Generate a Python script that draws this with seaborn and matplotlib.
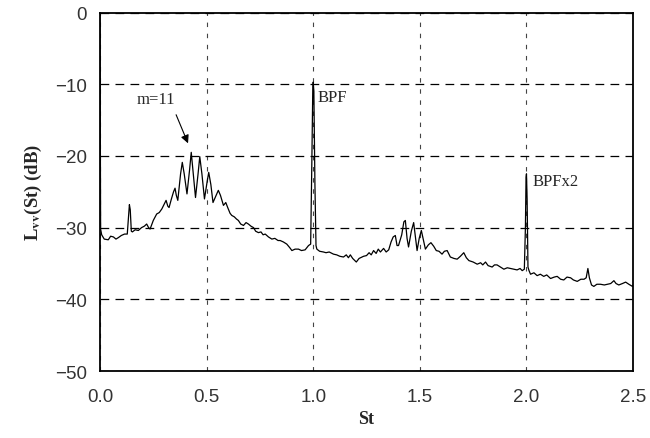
import matplotlib
matplotlib.use("Agg")
import matplotlib.pyplot as plt
import seaborn as sns
from matplotlib.ticker import MultipleLocator

# Strouhal number and narrow-band level
st = [0.0, 0.003, 0.008, 0.02, 0.039, 0.05, 0.063, 0.075, 0.086, 0.1, 0.115, 0.128,
      0.134, 0.138, 0.142, 0.147, 0.152, 0.165, 0.18, 0.195, 0.208, 0.219, 0.228, 0.235,
      0.25, 0.266, 0.278, 0.29, 0.3, 0.31, 0.318, 0.324, 0.335, 0.345, 0.352, 0.358,
      0.365, 0.378, 0.386, 0.395, 0.408, 0.42, 0.428, 0.436, 0.448, 0.46, 0.468, 0.478,
      0.49, 0.503, 0.51, 0.52, 0.53, 0.545, 0.555, 0.565, 0.579, 0.59, 0.599, 0.61,
      0.618, 0.63, 0.64, 0.649, 0.66, 0.673, 0.685, 0.696, 0.708, 0.72, 0.73, 0.743,
      0.755, 0.765, 0.775, 0.79, 0.806, 0.82, 0.835, 0.845, 0.86, 0.876, 0.89, 0.9,
      0.915, 0.931, 0.945, 0.962, 0.978, 0.988, 0.993, 0.998, 1.0, 1.003, 1.008, 1.013,
      1.017, 1.03, 1.048, 1.06, 1.075, 1.095, 1.11, 1.125, 1.142, 1.155, 1.165, 1.174,
      1.185, 1.202, 1.215, 1.236, 1.25, 1.262, 1.272, 1.283, 1.295, 1.305, 1.315, 1.33,
      1.342, 1.354, 1.365, 1.375, 1.385, 1.393, 1.40, 1.415, 1.425, 1.432, 1.44, 1.447,
      1.46, 1.471, 1.48, 1.487, 1.497, 1.507, 1.515, 1.526, 1.54, 1.552, 1.565, 1.577,
      1.59, 1.604, 1.615, 1.628, 1.643, 1.66, 1.675, 1.69, 1.706, 1.718, 1.73, 1.75,
      1.769, 1.785, 1.795, 1.808, 1.82, 1.839, 1.85, 1.862, 1.878, 1.894, 1.91, 1.925,
      1.94, 1.956, 1.97, 1.98, 1.99, 1.995, 1.998, 2.0, 2.003, 2.007, 2.012, 2.019,
      2.035, 2.05, 2.065, 2.081, 2.095, 2.113, 2.13, 2.144, 2.16, 2.175, 2.19, 2.207,
      2.22, 2.238, 2.255, 2.27, 2.28, 2.288, 2.295, 2.305, 2.316, 2.33, 2.347, 2.365,
      2.379, 2.395, 2.41, 2.42, 2.433, 2.45, 2.465, 2.48, 2.497, 2.5]
lvv = [0.0, -30.2, -31.0, -31.6, -31.7, -31.2, -31.3, -31.6, -31.4, -31.1, -30.9, -30.9,
       -28.5, -26.8, -27.5, -30.5, -30.6, -30.3, -30.4, -30.0, -29.8, -29.5, -30.0, -30.2,
       -29.0, -28.1, -27.9, -27.4, -26.8, -26.2, -27.0, -27.2, -26.0, -25.0, -24.5, -25.5,
       -26.2, -22.5, -20.9, -22.5, -25.3, -22.0, -19.5, -22.0, -25.8, -22.5, -20.1, -22.5,
       -26.0, -23.5, -22.3, -24.0, -26.5, -25.5, -24.8, -25.5, -26.9, -26.5, -27.2, -28.0,
       -28.3, -28.5, -28.8, -29.0, -29.5, -29.7, -29.3, -29.5, -29.8, -30.0, -30.5, -30.7,
       -30.6, -31.0, -30.9, -31.3, -31.6, -31.5, -31.8, -31.8, -32.0, -32.3, -32.8, -33.2,
       -33.0, -33.0, -33.2, -33.1, -32.5, -32.3, -22.0, -10.5, -9.7, -11.0, -24.0, -32.5,
       -33.0, -33.3, -33.4, -33.5, -33.4, -33.7, -33.8, -34.0, -34.1, -33.8, -34.2, -33.8,
       -34.3, -34.8, -34.3, -34.0, -33.9, -33.5, -33.8, -33.2, -33.6, -33.0, -33.4, -32.9,
       -33.4, -33.1, -32.0, -31.3, -31.1, -32.5, -32.5, -31.0, -29.2, -29.0, -31.5, -32.7,
       -30.5, -29.3, -31.5, -33.2, -31.5, -30.4, -31.5, -33.0, -32.4, -32.1, -32.6, -33.2,
       -33.3, -33.7, -33.3, -33.2, -34.1, -34.3, -34.4, -34.0, -33.5, -34.2, -34.6, -34.8,
       -35.1, -34.9, -35.2, -34.8, -35.3, -35.5, -35.2, -35.2, -35.5, -35.8, -35.6, -35.7,
       -35.8, -35.9, -35.7, -36.0, -35.8, -30.0, -23.0, -22.5, -26.0, -35.5, -36.0, -36.5,
       -36.3, -36.7, -36.5, -36.8, -36.6, -37.1, -36.9, -36.8, -37.2, -37.3, -36.9, -37.0,
       -37.3, -37.5, -37.2, -37.2, -37.0, -35.7, -37.0, -38.0, -38.2, -37.9, -37.9, -38.0,
       -37.9, -37.8, -37.4, -37.8, -38.0, -37.8, -37.6, -37.9, -38.2, -38.0]

x_ticks = [0.0, 0.5, 1.0, 1.5, 2.0, 2.5]
y_ticks = [0, -10, -20, -30, -40, -50]

sns.set_style("white")
plt.rcParams['font.family'] = ['Liberation Serif', 'DejaVu Serif']
plt.rcParams['mathtext.fontset'] = 'stix'

fig = plt.figure(figsize=(6.5, 4.39), dpi=100)
ax = fig.add_axes([0.1538, 0.1526, 0.8202, 0.8166])

sns.lineplot(x=st, y=lvv, color='black', lw=0.9, estimator=None, sort=False, ax=ax)

ax.set_xlim(0, 2.5)
ax.set_ylim(-50, 0)
ax.set_xticks(x_ticks)
ax.set_yticks(y_ticks)
ax.set_xticklabels([f"{v:.1f}" for v in x_ticks])
ax.set_yticklabels([str(v).replace('-', '\u2212') for v in y_ticks])
ax.xaxis.set_minor_locator(MultipleLocator(0.1))

for lab in ax.get_xticklabels() + ax.get_yticklabels():
    lab.set_fontfamily('Liberation Sans')
    lab.set_fontsize(13.5)
    lab.set_color('#333333')

ax.tick_params(axis='x', which='major', direction='out', length=4.5, width=1, pad=8, color='black')
ax.tick_params(axis='x', which='minor', direction='out', length=2.5, width=0.8, color='black')
ax.tick_params(axis='y', which='major', direction='inout', length=7, width=1, pad=6, color='black')

ax.grid(axis='y', which='major', color='black', lw=0.9, ls=(0, (7, 5)))
ax.grid(axis='x', which='major', color='#444444', lw=0.8, ls=(0, (4, 6)))

for sp in ax.spines.values():
    sp.set_visible(True)
    sp.set_color('black')
    sp.set_linewidth(1.3)

ax.set_xlabel('St', fontsize=13, fontweight='bold', labelpad=3)
ax.set_ylabel(r'L$_{\mathbf{vv}}$(St) (dB)', fontsize=13.5, fontweight='bold', labelpad=8)

ax.annotate('', xy=(0.418, -18.6), xytext=(0.352, -13.9),
            arrowprops=dict(arrowstyle='-|>', color='black', lw=0.8, mutation_scale=12))
ax.text(0.263, -12.1, 'm=11', ha='center', va='center', fontsize=12)
ax.text(1.022, -11.8, 'BPF', ha='left', va='center', fontsize=12)
ax.text(2.028, -23.5, 'BPFx2', ha='left', va='center', fontsize=12)

fig.savefig('out.png', dpi=100)
